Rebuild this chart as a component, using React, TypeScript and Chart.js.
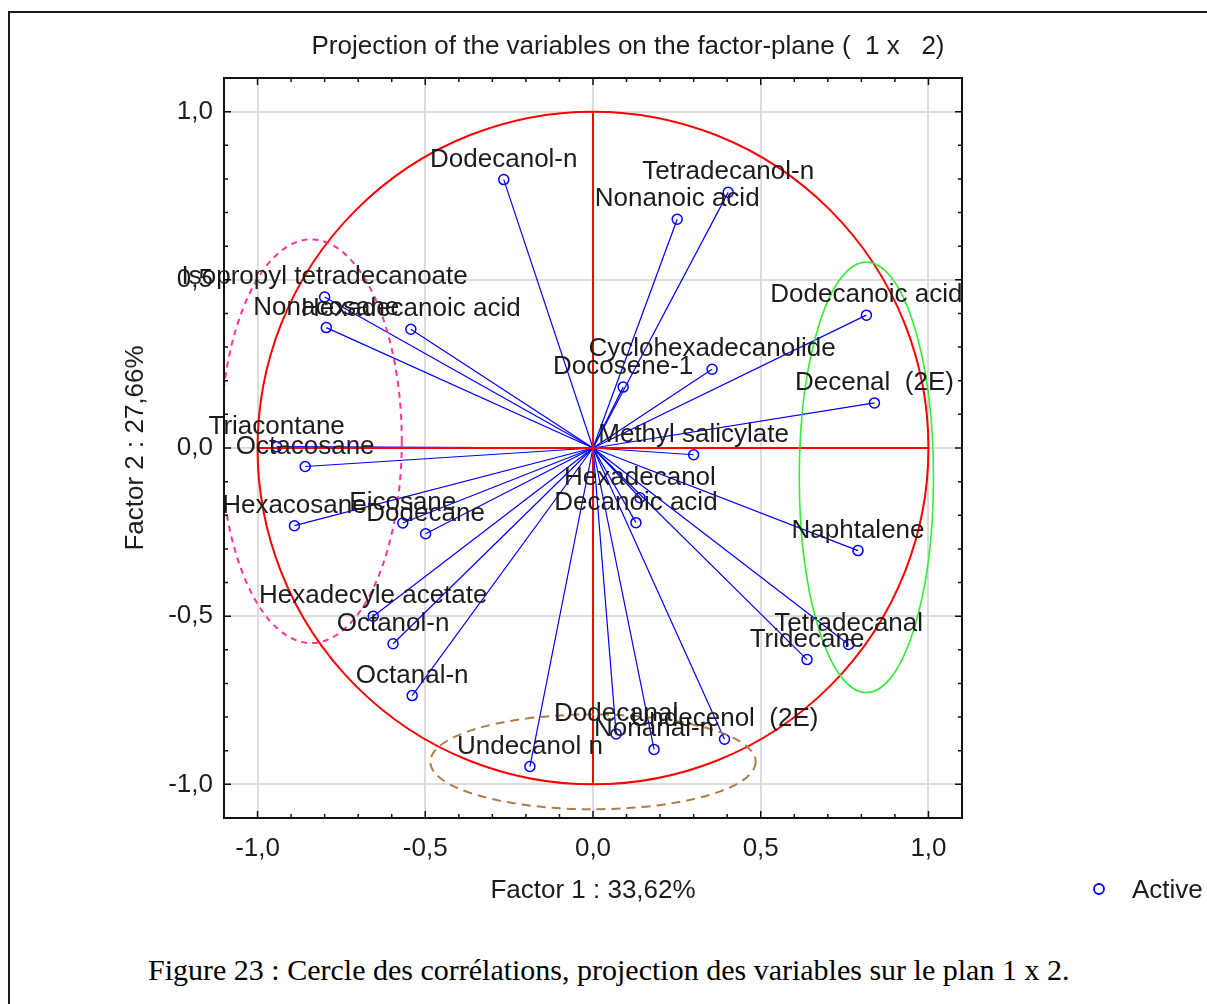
import React, { useEffect, useRef } from "react";
import { Chart, registerables } from "chart.js";

Chart.register(...registerables);

// Variables projected on the factor plane (Factor 1, Factor 2)
const variableNames = [
  "Dodecanol-n",
  "Tetradecanol-n",
  "Nonanoic acid",
  "Isopropyl tetradecanoate",
  "Nonacosane",
  "Hexadecanoic acid",
  "Dodecanoic acid",
  "Cyclohexadecanolide",
  "Docosene-1",
  "Decenal  (2E)",
  "Triacontane",
  "Octacosane",
  "Methyl salicylate",
  "Hexadecanol",
  "Decanoic acid",
  "Hexacosane",
  "Eicosane",
  "Dodecane",
  "Naphtalene",
  "Hexadecyle acetate",
  "Octanol-n",
  "Tetradecanal",
  "Tridecane",
  "Octanal-n",
  "Dodecanal",
  "Undecenol  (2E)",
  "Nonanal-n",
  "Undecanol n",
];

const factor1 = [
  -0.266, 0.403, 0.251, -0.8, -0.795, -0.543, 0.815, 0.355, 0.09, 0.839,
  -0.943, -0.858, 0.3, 0.14, 0.128, -0.89, -0.567, -0.499, 0.79, -0.655,
  -0.596, 0.762, 0.638, -0.539, 0.069, 0.392, 0.182, -0.188,
];

const factor2 = [
  0.798, 0.76, 0.68, 0.449, 0.358, 0.353, 0.395, 0.234, 0.181, 0.134,
  0.004, -0.055, -0.02, -0.148, -0.222, -0.231, -0.223, -0.255, -0.305, -0.5,
  -0.582, -0.584, -0.629, -0.736, -0.85, -0.866, -0.896, -0.947,
];

// Axis ticks
const majorTicks = [-1, -0.5, 0, 0.5, 1];
const tickLabels = ["-1,0", "-0,5", "0,0", "0,5", "1,0"];
const minorTicks = [
  -0.9, -0.8, -0.7, -0.6, -0.4, -0.3, -0.2, -0.1,
  0.1, 0.2, 0.3, 0.4, 0.6, 0.7, 0.8, 0.9,
];

// Groups of variables outlined by ellipses (centre and half-axes in factor units)
const groupCenterX = [-0.84, 0.815, 0.0];
const groupCenterY = [0.02, -0.087, -0.933];
const groupRadiusX = [0.27, 0.2, 0.485];
const groupRadiusY = [0.6, 0.64, 0.141];
const groupColors = ["#ff3399", "#33ee33", "#b07d48"];
const groupDashes = [[6, 5], [], [9, 6]];

const chartTitle = "Projection of the variables on the factor-plane (  1 x   2)";
const xTitle = "Factor 1 : 33,62%";
const yTitle = "Factor 2 : 27,66%";
const legendLabel = "Active";
const caption =
  "Figure 23 : Cercle des corrélations, projection des variables sur le plan 1 x 2.";

const FONT = '"Liberation Sans", Arial, sans-serif';
const TEXT = "#1c1c1c";
const BLUE = "#0000ff";

const overlayPlugin = {
  id: "factorOverlay",
  afterDatasetsDraw(chart: any) {
    const { ctx, chartArea: a } = chart;
    const xs = chart.scales.x;
    const ys = chart.scales.y;
    const px = (v: number) => xs.getPixelForValue(v);
    const py = (v: number) => ys.getPixelForValue(v);

    ctx.save();
    ctx.beginPath();
    ctx.rect(a.left, a.top, a.right - a.left, a.bottom - a.top);
    ctx.clip();

    // correlation circle and its axes
    const cx = px(0);
    const cy = py(0);
    ctx.strokeStyle = "#ff0000";
    ctx.lineWidth = 2;
    ctx.setLineDash([]);
    ctx.beginPath();
    ctx.ellipse(cx, cy, px(1) - cx, cy - py(1), 0, 0, Math.PI * 2);
    ctx.stroke();
    ctx.beginPath();
    ctx.moveTo(px(-1), cy);
    ctx.lineTo(px(1), cy);
    ctx.moveTo(cx, py(1));
    ctx.lineTo(cx, py(-1));
    ctx.stroke();

    // group ellipses
    groupCenterX.forEach((gx, i) => {
      const ex = px(gx);
      const ey = py(groupCenterY[i]);
      const rx = px(gx + groupRadiusX[i]) - ex;
      const ry = ey - py(groupCenterY[i] + groupRadiusY[i]);
      ctx.strokeStyle = groupColors[i];
      ctx.lineWidth = i === 1 ? 1.6 : 2;
      ctx.setLineDash(groupDashes[i]);
      ctx.beginPath();
      ctx.ellipse(ex, ey, rx, ry, 0, 0, Math.PI * 2);
      ctx.stroke();
    });
    ctx.setLineDash([]);
    ctx.restore();

    // variable labels, centred above each point
    ctx.save();
    ctx.font = `26px ${FONT}`;
    ctx.fillStyle = TEXT;
    ctx.textAlign = "center";
    ctx.textBaseline = "alphabetic";
    variableNames.forEach((name, i) => {
      ctx.fillText(name, px(factor1[i]), py(factor2[i]) - 13);
    });
    ctx.restore();

    // plot frame with inward ticks on all sides
    ctx.save();
    ctx.strokeStyle = "#111";
    ctx.lineWidth = 2;
    ctx.strokeRect(a.left, a.top, a.right - a.left, a.bottom - a.top);
    ctx.lineWidth = 1.5;
    const drawTicks = (values: number[], len: number) => {
      ctx.beginPath();
      values.forEach((v) => {
        const x = px(v);
        ctx.moveTo(x, a.bottom);
        ctx.lineTo(x, a.bottom - len);
        ctx.moveTo(x, a.top);
        ctx.lineTo(x, a.top + len);
        const y = py(v);
        ctx.moveTo(a.left, y);
        ctx.lineTo(a.left + len, y);
        ctx.moveTo(a.right, y);
        ctx.lineTo(a.right - len, y);
      });
      ctx.stroke();
    };
    drawTicks(majorTicks, 7);
    drawTicks(minorTicks, 4);
    ctx.restore();

    // chart title
    ctx.save();
    ctx.font = `26px ${FONT}`;
    ctx.fillStyle = TEXT;
    ctx.textAlign = "center";
    ctx.textBaseline = "alphabetic";
    ctx.fillText(chartTitle, 620, 46);

    // legend
    ctx.strokeStyle = BLUE;
    ctx.lineWidth = 1.8;
    ctx.beginPath();
    ctx.arc(1091, 881, 5, 0, Math.PI * 2);
    ctx.stroke();
    ctx.textAlign = "left";
    ctx.fillText(legendLabel, 1124, 890);
    ctx.restore();
  },
};

export default function App() {
  const canvasRef = useRef<HTMLCanvasElement | null>(null);

  useEffect(() => {
    const canvas = canvasRef.current;
    if (!canvas) return;

    const datasets = variableNames.map((name, i) => ({
      label: name,
      data: [
        { x: 0, y: 0 },
        { x: factor1[i], y: factor2[i] },
      ],
      showLine: true,
      borderColor: BLUE,
      borderWidth: 1.2,
      pointRadius: [0, 5],
      pointBorderColor: BLUE,
      pointBackgroundColor: "rgba(0,0,0,0)",
      pointBorderWidth: 1.5,
    }));

    const tickFont = { family: FONT, size: 26 };

    const chart = new Chart(canvas, {
      type: "scatter",
      data: { datasets },
      plugins: [overlayPlugin],
      options: {
        responsive: false,
        animation: false,
        events: [],
        layout: { padding: { left: 0, right: 245, top: 70, bottom: 0 } },
        plugins: {
          legend: { display: false },
          tooltip: { enabled: false },
          title: { display: false },
        },
        scales: {
          x: {
            type: "linear",
            min: -1.1,
            max: 1.1,
            afterBuildTicks: (s: any) => {
              s.ticks = majorTicks.map((v) => ({ value: v }));
            },
            afterFit: (s: any) => {
              s.height = 110;
            },
            ticks: {
              autoSkip: false,
              maxRotation: 0,
              padding: 15,
              color: TEXT,
              font: tickFont,
              callback: (_v: any, i: number) => tickLabels[i],
            },
            grid: { color: "#dcdcdc", lineWidth: 2, drawTicks: false },
            border: { display: false },
            title: {
              display: true,
              text: xTitle,
              color: TEXT,
              font: tickFont,
              padding: { top: 0, bottom: 22 },
            },
          },
          y: {
            type: "linear",
            min: -1.1,
            max: 1.1,
            afterBuildTicks: (s: any) => {
              s.ticks = majorTicks.map((v) => ({ value: v }));
            },
            afterFit: (s: any) => {
              s.width = 216;
            },
            ticks: {
              autoSkip: false,
              padding: 11,
              color: TEXT,
              font: tickFont,
              callback: (_v: any, i: number) => tickLabels[i],
            },
            grid: { color: "#dcdcdc", lineWidth: 2, drawTicks: false },
            border: { display: false },
            title: {
              display: true,
              text: yTitle,
              color: TEXT,
              font: tickFont,
              padding: { top: 112, bottom: 0 },
            },
          },
        },
      } as any,
    });

    return () => chart.destroy();
  }, []);

  return (
    <div
      style={{
        position: "fixed",
        left: 0,
        top: 0,
        width: 1207,
        height: 1004,
        overflow: "hidden",
        background: "#fff",
      }}
    >
      <div
        style={{
          position: "absolute",
          left: 8,
          top: 11,
          width: 1300,
          height: 1100,
          border: "2px solid #1a1a1a",
          boxSizing: "border-box",
        }}
      />
      <canvas
        ref={canvasRef}
        width={1199}
        height={920}
        style={{ position: "absolute", left: 8, top: 8, width: 1199, height: 920 }}
      />
      <div
        style={{
          position: "absolute",
          left: 148,
          top: 953,
          fontFamily: '"Liberation Serif", "Times New Roman", serif',
          fontSize: 30,
          lineHeight: "34px",
          color: "#000",
          whiteSpace: "nowrap",
        }}
      >
        {caption}
      </div>
    </div>
  );
}
